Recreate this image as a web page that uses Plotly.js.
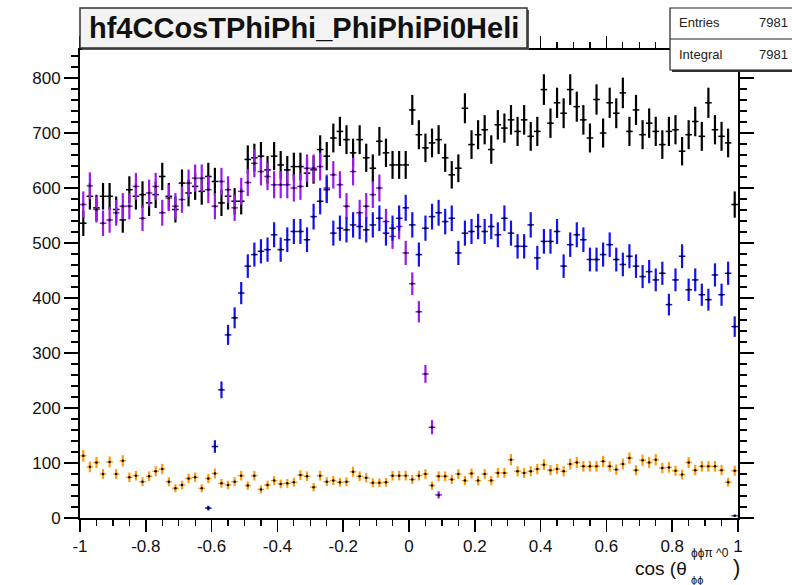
<!DOCTYPE html>
<html>
<head>
<meta charset="utf-8">
<script src="https://cdn.plot.ly/plotly-3.0.1.min.js"></script>
<style>
  html, body { margin: 0; padding: 0; background: #ffffff; }
  #chart { width: 792px; height: 585px; }
</style>
</head>
<body>
<div id="chart"></div>
<script>
// ---- histogram definition (100 bins on [-1, 1]) ----
const binLow = -1;
const binWidth = 0.02;

// ---- series values (bin contents, null = empty bin) ----
const blackValues = [
  536, 585, 564, 585, 585, 561, 542, 597, 585, 588,
  573, 588, 621, 585, 561, 609, 591, 603, 594, 621,
  612, 573, 585, 576, 576, 652, 655, 658, 633, 658,
  642, 633, 639, 639, 627, 633, 670, 658, 691, 703,
  688, 664, 688, 655, 636, 685, 664, 642, 642, 642,
  742, 697, 673, 682, 688, 655, 624, 636, 745, 679,
  697, 706, 670, 715, 709, 724, 703, 724, 694, 703,
  779, 718, 755, 736, 779, 748, 724, 691, 761, 700,
  755, 736, 773, 703, 742, 697, 718, 703, 679, 703,
  706, 667, 697, 721, 694, 755, 706, 694, 682, 570
];

const purpleValues = [
  570, 604, 561, 536, 542, 555, 567, 567, 603, 545,
  591, 603, 555, 582, 567, 579, 609, 618, 618, 597,
  567, 612, 597, 564, 594, 610, 645, 630, 621, 606,
  606, 606, 600, 603, 636, 636, 639, 600, 624, 606,
  567, 630, 555, 567, 588, 600, 539, 512, 530, 482,
  426, 375, 262, 165, 42, null, null, null, null, null,
  null, null, null, null, null, null, null, null, null, null,
  null, null, null, null, null, null, null, null, null, null,
  null, null, null, null, null, null, null, null, null, null,
  null, null, null, null, null, null, null, null, null, 4
];

const blueValues = [
  null, null, null, null, null, null, null, null, null, null,
  null, null, null, null, null, null, null, null, null, 18,
  130, 233, 333, 364, 409, 458, 479, 485, 488, 515,
  488, 506, 521, 521, 506, 548, 576, 597, 518, 527,
  524, 533, 530, 524, 533, 545, 518, 527, 545, 564,
  533, 479, 527, 548, 555, 539, 545, 482, 518, 521,
  530, 521, 530, 515, 545, 518, 494, 494, 533, 473,
  503, 503, 521, 458, 497, 515, 506, 470, 470, 479,
  497, 470, 461, 476, 458, 439, 448, 433, 445, 388,
  433, 476, 415, 433, 406, 397, 442, 406, 445, 348
];

const orangeValues = [
  113, 93, 101, 80, 102, 80, 104, 74, 77, 66,
  76, 85, 89, 66, 54, 60, 72, 74, 54, 72,
  81, 63, 60, 66, 77, 59, 77, 52, 60, 68,
  62, 63, 65, 78, 76, 56, 77, 66, 68, 65,
  66, 84, 76, 73, 64, 64, 65, 77, 77, 77,
  70, 77, 80, 59, 76, 76, 70, 80, 68, 81,
  68, 80, 68, 82, 82, 106, 85, 82, 85, 89,
  97, 87, 89, 85, 98, 101, 94, 94, 94, 103,
  94, 88, 98, 109, 87, 105, 101, 106, 91, 92,
  86, 79, 101, 87, 94, 94, 94, 87, 65, 86
];

// ---- tick labels ----
const xTickVals = [-1, -0.8, -0.6, -0.4, -0.2, 0, 0.2, 0.4, 0.6, 0.8, 1];
const xTickText = ["-1", "-0.8", "-0.6", "-0.4", "-0.2", "0", "0.2", "0.4", "0.6", "0.8", "1"];
const yTickVals = [0, 100, 200, 300, 400, 500, 600, 700, 800];
const yTickText = ["0", "100", "200", "300", "400", "500", "600", "700", "800"];

const titleText = "hf4CCosTPhiPhi_PhiPhiPi0Heli";
const statsLabels = ["Entries", "Integral"];
const statsValues = ["7981", "7981"];

// ---- build ----
const xCenters = blackValues.map((_, i) => binLow + binWidth * (i + 0.5));

function histTrace(values, color) {
  return {
    type: 'scatter',
    mode: 'markers',
    x: xCenters,
    y: values,
    cliponaxis: false,
    marker: { color: '#000000', size: 2.5 },
    error_y: {
      type: 'data',
      array: values.map(v => (v == null ? 0 : Math.sqrt(v))),
      visible: true, thickness: 2.2, width: 0, color: color
    },
    error_x: {
      type: 'constant', value: binWidth / 2,
      visible: true, thickness: 1.5, width: 0, color: color
    },
    hoverinfo: 'x+y',
    showlegend: false
  };
}

const data = [
  histTrace(blackValues, '#000000'),
  histTrace(purpleValues, '#9a18f2'),
  histTrace(blueValues, '#1212f0'),
  histTrace(orangeValues, '#ff9a10')
];

// plot area in pixels: x 80..738, y 50..518
const L = 80, R = 738, T = 50, B = 518;
const px = p => (p - L) / (R - L);
const py = p => (B - p) / (B - T);

const font = 'Liberation Sans, Arial, Helvetica, sans-serif';

const shapes = [
  // title box shadow + box
  { type: 'rect', xref: 'paper', yref: 'paper', x0: px(82), x1: px(529), y0: py(10), y1: py(50),
    fillcolor: '#555555', line: { width: 0 }, layer: 'above' },
  { type: 'rect', xref: 'paper', yref: 'paper', x0: px(80), x1: px(527), y0: py(8), y1: py(48),
    fillcolor: '#f3f3f3', line: { color: '#333333', width: 1.5 }, layer: 'above' },
  // stats box shadow + box
  { type: 'rect', xref: 'paper', yref: 'paper', x0: px(672), x1: px(800), y0: py(10), y1: py(72),
    fillcolor: '#333333', line: { width: 0 }, layer: 'above' },
  { type: 'rect', xref: 'paper', yref: 'paper', x0: px(670), x1: px(798), y0: py(8), y1: py(70),
    fillcolor: '#ffffff', line: { color: '#222222', width: 1.2 }, layer: 'above' },
  { type: 'line', xref: 'paper', yref: 'paper', x0: px(670), x1: px(798), y0: py(39), y1: py(39),
    line: { color: '#222222', width: 1 }, layer: 'above' }
];

const annotations = [
  { xref: 'paper', yref: 'paper', x: px(303.5), y: py(28), xanchor: 'center', yanchor: 'middle',
    text: '<b>' + titleText + '</b>', showarrow: false,
    font: { family: font, size: 29, color: '#111111' } },
  { xref: 'paper', yref: 'paper', x: px(677), y: py(23), xanchor: 'left', yanchor: 'middle',
    text: statsLabels[0], showarrow: false, font: { family: font, size: 13, color: '#222222' } },
  { xref: 'paper', yref: 'paper', x: px(757), y: py(23), xanchor: 'left', yanchor: 'middle',
    text: statsValues[0], showarrow: false, font: { family: font, size: 13, color: '#222222' } },
  { xref: 'paper', yref: 'paper', x: px(677), y: py(55), xanchor: 'left', yanchor: 'middle',
    text: statsLabels[1], showarrow: false, font: { family: font, size: 13, color: '#222222' } },
  { xref: 'paper', yref: 'paper', x: px(757), y: py(55), xanchor: 'left', yanchor: 'middle',
    text: statsValues[1], showarrow: false, font: { family: font, size: 13, color: '#222222' } },
  // x-axis title pieces: cos(θ^{ϕϕπ ^0}_{ϕϕ})
  { xref: 'paper', yref: 'paper', x: px(689), y: py(568), xanchor: 'right', yanchor: 'middle',
    text: 'cos\u00a0(θ', showarrow: false, font: { family: font, size: 19, color: '#111111' } },
  { xref: 'paper', yref: 'paper', x: px(689), y: py(553), xanchor: 'left', yanchor: 'middle',
    text: 'ϕϕπ ^0', showarrow: false, font: { family: font, size: 12, color: '#111111' } },
  { xref: 'paper', yref: 'paper', x: px(689), y: py(580), xanchor: 'left', yanchor: 'middle',
    text: 'ϕϕ', showarrow: false, font: { family: font, size: 11, color: '#111111' } },
  { xref: 'paper', yref: 'paper', x: px(736), y: py(567), xanchor: 'center', yanchor: 'middle',
    text: ')', showarrow: false, font: { family: font, size: 22, color: '#111111' } }
];

const layout = {
  width: 792, height: 585,
  margin: { l: L, r: 792 - R, t: T, b: 585 - B, pad: 0 },
  paper_bgcolor: '#ffffff',
  plot_bgcolor: '#ffffff',
  showlegend: false,
  xaxis: {
    range: [-1, 1],
    tickmode: 'array', tickvals: xTickVals, ticktext: xTickText,
    ticks: 'outside', ticklen: 12, tickwidth: 1.5, tickcolor: '#000000',
    minor: { dtick: 0.05, tick0: -1, ticks: 'outside', ticklen: 6, tickwidth: 1.2, tickcolor: '#000000', showgrid: false },
    showline: true, linecolor: '#000000', linewidth: 2, mirror: 'ticks',
    showgrid: false, zeroline: false,
    tickfont: { family: font, size: 17, color: '#111111' }
  },
  yaxis: {
    range: [0, 851],
    tickmode: 'array', tickvals: yTickVals, ticktext: yTickText,
    ticks: 'outside', ticklen: 14, tickwidth: 1.5, tickcolor: '#000000',
    minor: { dtick: 20, tick0: 0, ticks: 'outside', ticklen: 7, tickwidth: 1.2, tickcolor: '#000000', showgrid: false },
    showline: true, linecolor: '#000000', linewidth: 2, mirror: 'ticks',
    showgrid: false, zeroline: false,
    tickfont: { family: font, size: 17, color: '#111111' }
  },
  shapes: shapes,
  annotations: annotations
};

Plotly.newPlot('chart', data, layout, { displayModeBar: false, staticPlot: true });
</script>
</body>
</html>
